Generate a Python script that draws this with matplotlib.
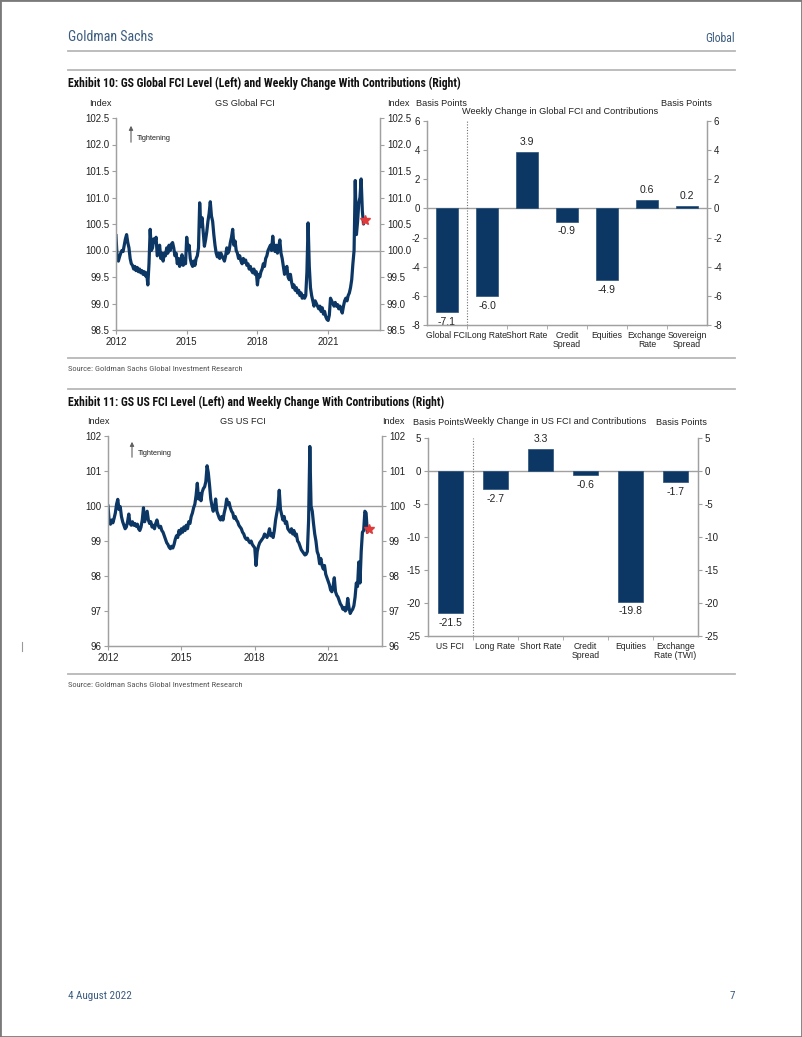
import numpy as np
import matplotlib
matplotlib.use("Agg")
import matplotlib.pyplot as plt
from matplotlib.patches import Rectangle, FancyArrowPatch
from matplotlib.lines import Line2D
from matplotlib.ticker import FormatStrFormatter

W, H = 802, 1037

# FCI index levels, one value every 0.05 yr from 2012.0
global_fci = [
    100.28, 99.85, 99.80, 99.88, 99.95, 100.00, 99.98, 100.10, 100.22, 100.30, 100.15, 100.05, 99.85, 99.75, 99.72, 99.65, 99.70, 99.62, 99.68, 99.60,  # 2012
    99.65, 99.58, 99.62, 99.55, 99.60, 99.52, 99.58, 99.35, 99.75, 100.40, 100.00, 100.05, 100.22, 100.15, 100.25, 99.90, 99.95, 100.10, 99.85, 99.95,  # 2013
    99.80, 99.95, 99.90, 100.05, 99.95, 100.10, 100.00, 100.12, 100.15, 100.05, 99.90, 99.95, 99.75, 99.85, 99.70, 99.80, 99.92, 99.72, 99.85, 99.75,  # 2014
    100.25, 100.00, 100.10, 99.85, 99.75, 99.70, 99.80, 99.72, 99.85, 99.90, 100.05, 100.90, 100.45, 100.62, 100.35, 100.08, 100.20, 100.35, 100.55, 100.70,  # 2015
    100.92, 100.65, 100.55, 100.30, 100.10, 99.95, 99.88, 99.95, 99.85, 99.95, 99.90, 99.85, 99.80, 99.90, 100.05, 99.95, 100.00, 100.15, 100.25, 100.40,  # 2016
    100.10, 100.18, 100.00, 99.95, 99.85, 99.90, 99.80, 99.75, 99.85, 99.78, 99.82, 99.72, 99.75, 99.65, 99.70, 99.62, 99.58, 99.65, 99.55, 99.60,  # 2017
    99.35, 99.55, 99.50, 99.60, 99.65, 99.75, 99.70, 99.85, 99.90, 100.00, 100.05, 100.10, 100.00, 100.27, 100.05, 99.98, 100.10, 99.95, 100.05, 100.20,  # 2018
    99.95, 99.85, 99.70, 99.55, 99.65, 99.70, 99.50, 99.45, 99.55, 99.40, 99.30, 99.35, 99.25, 99.30, 99.20, 99.25, 99.15, 99.20, 99.10, 99.15,  # 2019
    99.10, 99.15, 99.60, 100.52, 99.70, 99.30, 99.15, 99.05, 98.95, 99.05, 99.00, 98.95, 98.90, 98.95, 98.85, 98.92, 98.80, 98.85, 98.75, 98.70,  # 2020
    98.68, 98.78, 99.10, 99.05, 99.00, 98.95, 99.02, 98.95, 98.98, 98.90, 98.95, 98.88, 98.82, 98.95, 99.05, 99.10, 99.05, 99.15, 99.20, 99.30,  # 2021
    99.45, 99.75, 100.00, 101.32, 100.30, 100.55, 100.90, 101.00, 101.35, 100.75, 100.50, 100.57,  # 2022
]

us_fci = [
    100.00, 99.55, 99.48, 99.60, 99.52, 99.65, 99.80, 100.05, 100.19, 99.90, 99.98, 99.70, 99.55, 99.45, 99.35, 99.40, 99.55, 99.77, 99.50, 99.45,  # 2012
    99.55, 99.45, 99.50, 99.42, 99.48, 99.35, 99.30, 99.40, 99.60, 99.95, 99.55, 99.70, 99.85, 99.60, 99.50, 99.55, 99.40, 99.45, 99.35, 99.50,  # 2013
    99.60, 99.45, 99.38, 99.42, 99.30, 99.25, 99.15, 99.05, 98.95, 98.90, 98.82, 98.78, 98.85, 98.80, 98.90, 99.05, 99.15, 99.10, 99.30, 99.20,  # 2014
    99.35, 99.25, 99.40, 99.30, 99.45, 99.35, 99.55, 99.50, 99.70, 99.80, 99.95, 100.05, 100.30, 100.65, 100.20, 100.35, 100.15, 100.40, 100.50, 100.55,  # 2015
    100.70, 101.15, 100.95, 100.60, 100.20, 100.00, 99.85, 99.95, 100.20, 99.85, 99.75, 99.65, 99.60, 99.70, 99.60, 99.80, 99.95, 100.20, 100.05, 100.10,  # 2016
    99.95, 99.85, 99.80, 99.65, 99.70, 99.60, 99.55, 99.45, 99.40, 99.35, 99.25, 99.20, 99.10, 99.05, 99.08, 99.00, 98.95, 99.00, 98.90, 98.85,  # 2017
    98.80, 98.30, 98.70, 98.85, 98.95, 99.00, 99.05, 99.10, 99.20, 99.15, 99.10, 99.20, 99.35, 99.15, 99.20, 99.10, 99.30, 99.60, 99.80, 100.00,  # 2018
    100.45, 99.90, 99.75, 99.60, 99.70, 99.50, 99.55, 99.35, 99.30, 99.25, 99.35, 99.20, 99.30, 99.15, 99.20, 99.00, 98.95, 98.85, 98.75, 98.70,  # 2019
    98.65, 98.60, 98.62, 98.70, 99.60, 101.70, 100.00, 99.85, 99.50, 99.20, 99.00, 98.70, 98.60, 98.35, 98.50, 98.30, 98.20, 98.30, 98.05, 97.95,  # 2020
    97.85, 97.75, 97.60, 97.55, 97.70, 97.95, 97.55, 97.45, 97.40, 97.30, 97.20, 97.15, 97.05, 97.10, 97.00, 97.05, 97.36, 97.10, 96.93, 97.00,  # 2021
    97.05, 97.15, 97.40, 97.80, 97.70, 98.40, 97.80, 98.70, 99.25, 99.30, 99.85, 99.80, 99.25, 99.35,  # 2022
]

global_cats = ["Global FCI", "Long Rate", "Short Rate", "Credit\nSpread", "Equities", "Exchange\nRate", "Sovereign\nSpread"]
global_vals = [-7.1, -6.0, 3.9, -0.9, -4.9, 0.6, 0.2]

us_cats = ["US FCI", "Long Rate", "Short Rate", "Credit\nSpread", "Equities", "Exchange\nRate (TWI)"]
us_vals = [-21.5, -2.7, 3.3, -0.6, -19.8, -1.7]

NAVY = '#0c3764'
AXIS = '#a0a0a0'
TXT = '#222222'
HEAD = '#3c5c80'
NARROW = ['Roboto Condensed', 'Liberation Sans', 'DejaVu Sans']

plt.rcParams['font.family'] = ['Liberation Sans', 'DejaVu Sans']
plt.rcParams['font.size'] = 7
plt.rcParams['axes.unicode_minus'] = False

fig = plt.figure(figsize=(W / 100, H / 100), dpi=100)


def box(x0, y0, x1, y1):
    return [x0 / W, 1 - y1 / H, (x1 - x0) / W, (y1 - y0) / H]


def ftext(x, y, s, **kw):
    kw.setdefault('va', 'center')
    kw.setdefault('color', TXT)
    fig.text(x / W, 1 - y / H, s, **kw)


def hline(y, x0=68, x1=735, color='#b8b8b8', lw=1.3):
    fig.add_artist(Line2D([x0 / W, x1 / W], [1 - y / H, 1 - y / H], color=color, lw=lw))


def style(ax):
    for s in ['left', 'right', 'bottom']:
        ax.spines[s].set_color(AXIS)
        ax.spines[s].set_linewidth(0.9)
    ax.spines['top'].set_visible(False)
    ax.tick_params(colors=AXIS, labelcolor=TXT, length=3, width=0.8, labelsize=7, pad=2)


def fci_panel(rect, values, ylim, yticks, fmt):
    ax = fig.add_axes(rect)
    t = 2012 + 0.05 * np.arange(len(values))
    ax.axhline(100, color=AXIS, lw=1.0, zorder=1)
    ax.plot(t, values, color=NAVY, lw=2.3, zorder=2, solid_joinstyle='round')
    ax.plot(t[-1], values[-1], marker='*', color='#e03a3a', ms=7, mec='#e03a3a', zorder=3)
    ax.set_xlim(2012, 2023.2)
    ax.set_ylim(*ylim)
    ax.set_xticks([2012, 2015, 2018, 2021])
    ax.set_yticks(yticks)
    ax.yaxis.set_major_formatter(FormatStrFormatter(fmt))
    style(ax)
    axr = ax.twinx()
    axr.set_ylim(*ylim)
    axr.set_yticks(yticks)
    axr.yaxis.set_major_formatter(FormatStrFormatter(fmt))
    style(axr)
    return ax


def bar_panel(rect, cats, vals, ylim, step):
    ax = fig.add_axes(rect)
    x = np.arange(len(cats))
    ax.axhline(0, color=AXIS, lw=1.0, zorder=1)
    ax.bar(x, vals, width=0.55, color=NAVY, edgecolor='#27507a', lw=0.5, zorder=2)
    ax.axvline(0.5, color='#707070', lw=0.8, ls=(0, (1, 1.5)), zorder=1)
    ax.set_xlim(-0.5, len(cats) - 0.5)
    ax.set_ylim(*ylim)
    ticks = np.arange(ylim[0], ylim[1] + step, step)
    ax.set_yticks(ticks)
    ax.set_xticks(x)
    ax.set_xticklabels(cats, linespacing=1.1, va='top')
    ax.set_xticks(np.arange(0.5, len(cats) - 1, 1), minor=True)
    style(ax)
    ax.tick_params(axis='x', which='major', length=0, pad=4, labelsize=6.2)
    ax.tick_params(axis='x', which='minor', length=3, color=AXIS)
    for xi, v in zip(x, vals):
        ax.annotate(f'{v:.1f}', (xi, v), xytext=(0, 7 if v > 0 else -7),
                    textcoords='offset points', ha='center', va='center',
                    fontsize=7.5, color=TXT)
    axr = ax.twinx()
    axr.set_ylim(*ylim)
    axr.set_yticks(ticks)
    style(axr)
    return ax


def tightening(x, y0, y1):
    fig.add_artist(FancyArrowPatch((x / W, 1 - y0 / H), (x / W, 1 - y1 / H),
                                   transform=fig.transFigure, arrowstyle='-|>',
                                   mutation_scale=6, color='#606060', lw=0.8))
    ftext(x + 6, (y0 + y1) / 2 + 4, 'Tightening', fontsize=5.3)


# page frame and header
fig.add_artist(Rectangle((0, 0), 1, 1, transform=fig.transFigure, fill=False,
                         edgecolor='#7a7a7a', lw=2))
ftext(68, 37, 'Goldman Sachs', fontsize=10, color=HEAD, family=NARROW)
ftext(735, 38, 'Global', fontsize=8.5, color=HEAD, ha='right', family=NARROW)
hline(51)
hline(70)

# Exhibit 10
ftext(68, 83, 'Exhibit 10: GS Global FCI Level (Left) and Weekly Change With Contributions (Right)',
      fontsize=8.5, fontweight='bold', family=NARROW, color='#111111')
fci_panel(box(116, 118, 380, 330), global_fci, (98.5, 102.5),
          np.arange(98.5, 102.6, 0.5), '%.1f')
ftext(89, 104, 'Index', fontsize=6.6)
ftext(245, 104, 'GS Global FCI', ha='center', fontsize=6.6)
ftext(387, 104, 'Index', fontsize=6.6)
ftext(416, 104, 'Basis Points', fontsize=6.6)
ftext(560, 112, 'Weekly Change in Global FCI and Contributions', ha='center', fontsize=6.6)
ftext(712, 104, 'Basis Points', ha='right', fontsize=6.6)
tightening(131, 145, 123)
bar_panel(box(427, 121, 707, 325), global_cats, global_vals, (-8, 6), 2)

hline(358)
ftext(68, 369, 'Source: Goldman Sachs Global Investment Research', fontsize=6.1,
      color='#555555', family=NARROW)
hline(389)

# Exhibit 11
ftext(68, 402, 'Exhibit 11: GS US FCI Level (Left) and Weekly Change With Contributions (Right)',
      fontsize=8.5, fontweight='bold', family=NARROW, color='#111111')
fci_panel(box(108, 436, 382, 646), us_fci, (96, 102), np.arange(96, 103, 1), '%d')
ftext(87, 422, 'Index', fontsize=6.6)
ftext(243, 421, 'GS US FCI', ha='center', fontsize=6.6)
ftext(382, 422, 'Index', fontsize=6.6)
ftext(413, 423, 'Basis Points', fontsize=6.6)
ftext(555, 421, 'Weekly Change in US FCI and Contributions', ha='center', fontsize=6.6)
ftext(707, 423, 'Basis Points', ha='right', fontsize=6.6)
tightening(132, 460, 439)
bar_panel(box(428, 438, 698, 636), us_cats, us_vals, (-25, 5), 5)

hline(674)
ftext(68, 685, 'Source: Goldman Sachs Global Investment Research', fontsize=6.1,
      color='#555555', family=NARROW)
fig.add_artist(Line2D([22 / W, 22 / W], [1 - 642 / H, 1 - 651 / H], color='#999999', lw=0.8))

# footer
ftext(68, 996, '4 August 2022', fontsize=8, color=HEAD, family=NARROW)
ftext(735, 996, '7', fontsize=8, color=HEAD, ha='right', family=NARROW)

fig.savefig('out.png', dpi=100)
